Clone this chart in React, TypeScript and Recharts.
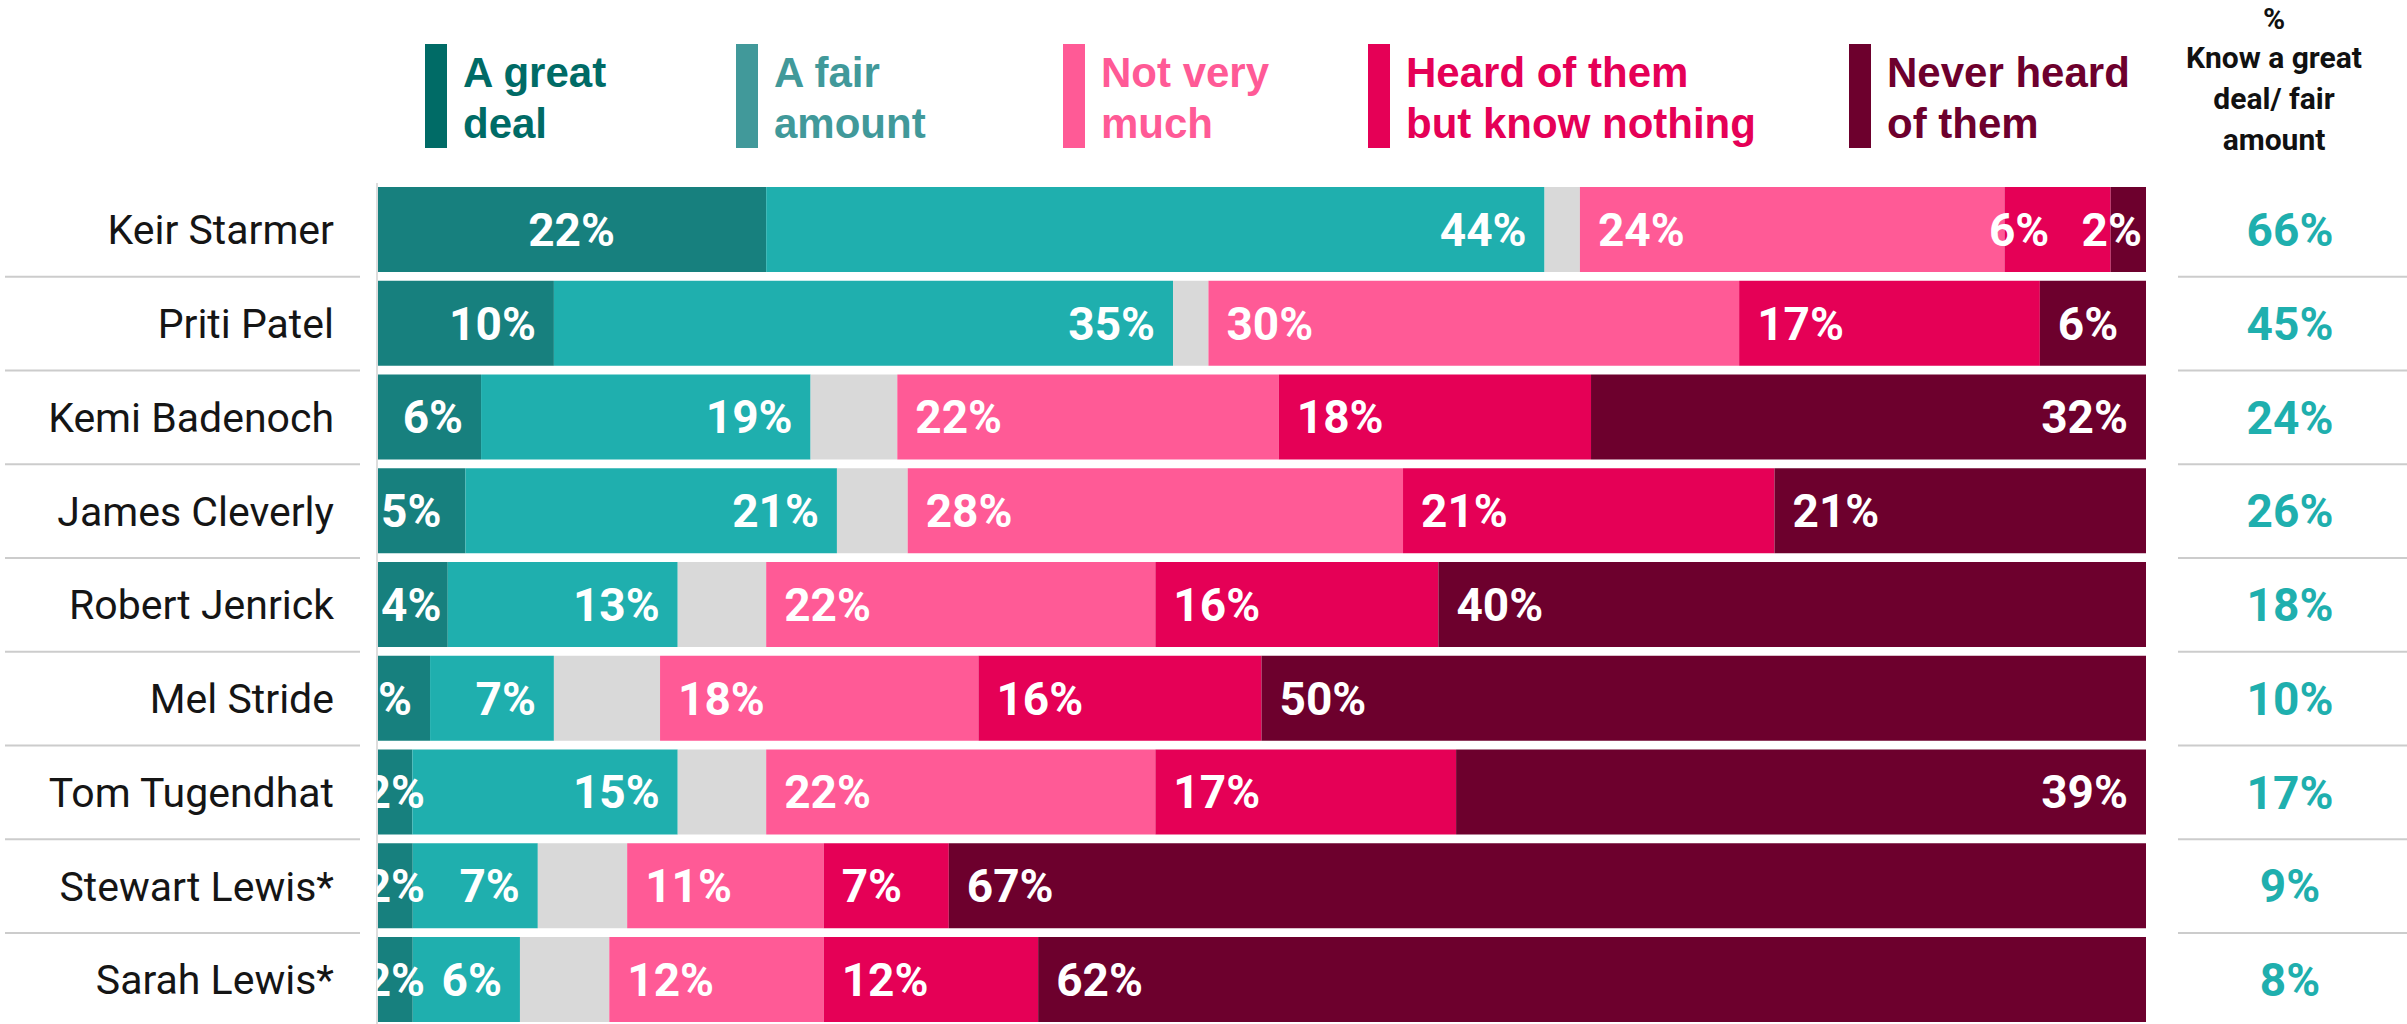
import {Bar, BarChart, XAxis, YAxis} from "recharts";

// survey rows, top to bottom
const candidates = [
  "Keir Starmer",
  "Priti Patel",
  "Kemi Badenoch",
  "James Cleverly",
  "Robert Jenrick",
  "Mel Stride",
  "Tom Tugendhat",
  "Stewart Lewis*",
  "Sarah Lewis*",
];

const greatDeal = [22, 10, 6, 5, 4, 3, 2, 2, 2];
const fairAmount = [44, 35, 19, 21, 13, 7, 15, 7, 6];
const dontKnow = [2, 2, 5, 4, 5, 6, 5, 5, 5];
const notVeryMuch = [24, 30, 22, 28, 22, 18, 22, 11, 12];
const heardNothing = [6, 17, 18, 21, 16, 16, 17, 7, 12];
const neverHeard = [2, 6, 32, 21, 40, 50, 39, 67, 62];
const knowTotal = [66, 45, 24, 26, 18, 10, 17, 9, 8];

// rows where the "never heard" label sits at the bar end
const neverLabelAtEnd = ["Keir Starmer", "Kemi Badenoch", "Tom Tugendhat"];

const legendItems = [
  {lines: ["A great", "deal"], color: "#006b66", x: 425},
  {lines: ["A fair", "amount"], color: "#41999a", x: 736},
  {lines: ["Not very", "much"], color: "#ff5a96", x: 1063},
  {lines: ["Heard of them", "but know nothing"], color: "#e50056", x: 1368},
  {lines: ["Never heard", "of them"], color: "#6d002d", x: 1849},
];

const headerLines = ["%", "Know a great", "deal/ fair", "amount"];

const COLORS = {
  great: "#17807e",
  fair: "#1fafae",
  dk: "#d9d9d9",
  notMuch: "#ff5a96",
  heard: "#e50056",
  never: "#6d002d",
};

const WIDTH = 2407;
const HEIGHT = 1030;
const LEFT_W = 377;
const RIGHT_W = 261;
const PLOT_W = WIDTH - LEFT_W - RIGHT_W;
const TOP = 183;
const BAND = 93.75;
const BAR_SIZE = 85;
const BOTTOM = HEIGHT - TOP - BAND * candidates.length;

const FONT = "Roboto, 'Noto Sans', sans-serif";
const LABEL_SIZE = 46;
const PAD = 18;

const data = candidates.map((name, i) => ({
  name,
  great: greatDeal[i],
  fair: fairAmount[i],
  dk: dontKnow[i],
  notMuch: notVeryMuch[i],
  heard: heardNothing[i],
  never: neverHeard[i],
}));

const rowTotal = (i: number) =>
  greatDeal[i] + fairAmount[i] + dontKnow[i] + notVeryMuch[i] + heardNothing[i] + neverHeard[i];

function textWidth(text: string) {
  let w = 0;
  for (const ch of text) w += ch === "%" ? 0.733 : 0.5615;
  return w * LABEL_SIZE;
}

type Place = {tx: number; anchor: "start" | "end" | "middle"};

function neverPlace(x: number, w: number, i: number): Place {
  const tw = textWidth(`${neverHeard[i]}%`);
  if (neverLabelAtEnd.includes(candidates[i])) {
    return {tx: w >= tw + 2 * PAD ? x + w - PAD : x + w - 4, anchor: "end"};
  }
  return {tx: x + PAD, anchor: "start"};
}

const placers: Record<string, (x: number, w: number, i: number, tw: number) => Place> = {
  great: (x, w, _i, tw) => {
    if (w >= tw + 2 * PAD) return w > 300 ? {tx: x + w / 2, anchor: "middle"} : {tx: x + w - PAD, anchor: "end"};
    if (w >= tw) return {tx: x + 4, anchor: "start"};
    if (w > 45) return {tx: x + w - PAD, anchor: "end"};
    return {tx: x + w / 2, anchor: "middle"};
  },
  fair: (x, w) => ({tx: x + w - PAD, anchor: "end"}),
  notMuch: (x) => ({tx: x + PAD, anchor: "start"}),
  heard: (x, w, i, tw) => {
    // keep clear of the label in the next segment
    const nx = x + w;
    const nw = (neverHeard[i] / rowTotal(i)) * PLOT_W;
    const np = neverPlace(nx, nw, i);
    const ntw = textWidth(`${neverHeard[i]}%`);
    const nextLeft = np.anchor === "end" ? np.tx - ntw : np.tx;
    let start = x + PAD;
    if (start + tw > nextLeft - 34) start = nextLeft - 34 - tw;
    return {tx: start, anchor: "start"};
  },
  never: (x, w, i) => neverPlace(x, w, i),
};

function makeLabel(key: string, values: number[]) {
  return (props: any) => {
    const vb = props.viewBox ?? {};
    const x = Number(props.x ?? vb.x);
    const y = Number(props.y ?? vb.y);
    const w = Number(props.width ?? vb.width);
    const h = Number(props.height ?? vb.height);
    const i = props.index;
    const text = `${values[i]}%`;
    const p = placers[key](x, w, i, textWidth(text));
    return (
      <text
        key={`${key}-${i}`}
        x={p.tx}
        y={y + h / 2 + LABEL_SIZE * 0.355}
        textAnchor={p.anchor}
        fill="#ffffff"
        fontFamily={FONT}
        fontSize={LABEL_SIZE}
        fontWeight={700}
        clipPath="url(#plot-clip)"
      >
        {text}
      </text>
    );
  };
}

function LeftTick(props: any) {
  const {x, y, index} = props;
  return (
    <g>
      <text
        x={x - 43}
        y={y + 14.5}
        textAnchor="end"
        fill="#151515"
        fontFamily={FONT}
        fontSize={41}
      >
        {props.payload.value}
      </text>
      {index < candidates.length - 1 && (
        <line x1={5} x2={x - 17} y1={y + BAND / 2} y2={y + BAND / 2} stroke="#cccccc" strokeWidth={2} />
      )}
    </g>
  );
}

function RightTick(props: any) {
  const {x, y, index} = props;
  return (
    <g>
      <text
        x={x + 144}
        y={y + LABEL_SIZE * 0.355}
        textAnchor="middle"
        fill="#1fafae"
        fontFamily={FONT}
        fontSize={LABEL_SIZE}
        fontWeight={700}
      >
        {`${knowTotal[index]}%`}
      </text>
      {index < candidates.length - 1 && (
        <line x1={x + 32} x2={WIDTH} y1={y + BAND / 2} y2={y + BAND / 2} stroke="#cccccc" strokeWidth={2} />
      )}
    </g>
  );
}

const series = [
  {key: "great", values: greatDeal, color: COLORS.great, label: true},
  {key: "fair", values: fairAmount, color: COLORS.fair, label: true},
  {key: "dk", values: dontKnow, color: COLORS.dk, label: false},
  {key: "notMuch", values: notVeryMuch, color: COLORS.notMuch, label: true},
  {key: "heard", values: heardNothing, color: COLORS.heard, label: true},
  {key: "never", values: neverHeard, color: COLORS.never, label: true},
];

export default function App() {
  return (
    <div
      style={{
        position: "absolute",
        top: 0,
        left: 0,
        width: WIDTH,
        height: 1024,
        overflow: "hidden",
        background: "#ffffff",
      }}
    >
      <svg width={WIDTH} height={HEIGHT} style={{position: "absolute", top: 0, left: 0}}>
        <defs>
          <clipPath id="plot-clip">
            <rect x={LEFT_W} y={0} width={PLOT_W} height={HEIGHT} />
          </clipPath>
        </defs>
        {legendItems.map((item) => (
          <g key={item.lines[0]}>
            <rect x={item.x} y={44} width={22} height={104} fill={item.color} />
            {item.lines.map((line, j) => (
              <text
                key={line}
                x={item.x + 38}
                y={87 + j * 51}
                fill={item.color}
                fontFamily="'Liberation Sans', Arial, sans-serif"
                fontWeight={700}
                fontSize={42}
              >
                {line}
              </text>
            ))}
          </g>
        ))}
        {headerLines.map((line, j) => (
          <text
            key={line}
            x={2274}
            y={[29, 68, 109, 150][j]}
            textAnchor="middle"
            fill="#111111"
            fontFamily={FONT}
            fontWeight={700}
            fontSize={30}
          >
            {line}
          </text>
        ))}
      </svg>
      <div style={{position: "absolute", top: 0, left: 0}}>
        <BarChart
          width={WIDTH}
          height={HEIGHT}
          data={data}
          layout="vertical"
          stackOffset="expand"
          barSize={BAR_SIZE}
          margin={{top: TOP, right: 0, bottom: BOTTOM, left: 0}}
        >
          <XAxis type="number" domain={[0, 1]} hide />
          <YAxis
            type="category"
            dataKey="name"
            width={LEFT_W}
            axisLine={{stroke: "#dddddd", strokeWidth: 2}}
            tickLine={false}
            tickSize={0}
            tickMargin={0}
            interval={0}
            tick={LeftTick}
          />
          <YAxis
            yAxisId="right"
            orientation="right"
            type="category"
            dataKey="name"
            width={RIGHT_W}
            axisLine={false}
            tickLine={false}
            tickSize={0}
            tickMargin={0}
            interval={0}
            tick={RightTick}
          />
          {series.map((s) => (
            <Bar
              key={s.key}
              dataKey={s.key}
              stackId="all"
              fill={s.color}
              isAnimationActive={false}
              label={s.label ? makeLabel(s.key, s.values) : false}
            />
          ))}
        </BarChart>
      </div>
    </div>
  );
}
